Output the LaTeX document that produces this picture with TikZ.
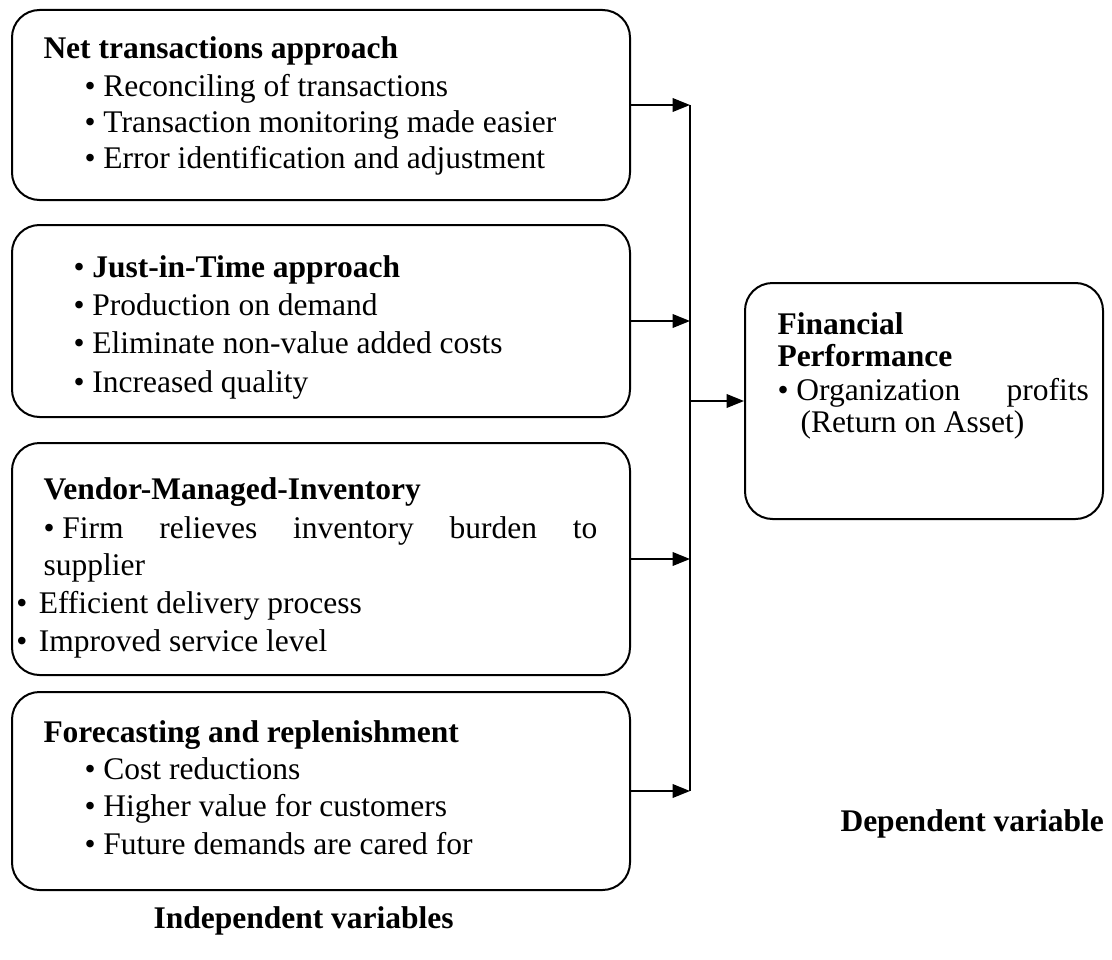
\documentclass[tikz,border=0pt]{standalone}
\usepackage{fontspec}
\setmainfont{Liberation Serif}
\usetikzlibrary{arrows.meta}

\newcommand{\bodyfont}{\fontsize{12.6}{15}\selectfont}

\tikzset{
  box/.style={draw, line width=0.8pt, rounded corners=11pt, inner sep=0pt},
  txt/.style={anchor=base west, inner sep=0pt, font=\bodyfont},
  hd/.style={txt, font=\bodyfont\bfseries},
  link/.style={line width=0.6pt, -{Triangle[length=7pt,width=5.5pt]}}
}

\begin{document}
\begin{tikzpicture}[x=0.4pt,y=-0.4pt]
  \useasboundingbox (0,0) rectangle (1112,959);

  \node[box, minimum width=618*0.4pt, minimum height=190*0.4pt] (nt) at (321,105) {};
  \node[box, minimum width=618*0.4pt, minimum height=192*0.4pt] (jit) at (321,321) {};
  \node[box, minimum width=618*0.4pt, minimum height=232*0.4pt] (vmi) at (321,559) {};
  \node[box, minimum width=618*0.4pt, minimum height=198*0.4pt] (fr) at (321,791) {};
  \node[box, minimum width=358*0.4pt, minimum height=236*0.4pt] (fp) at (924,401) {};

  \node[hd] (nt0) at (43,59) {Net transactions approach};
  \node[txt] (nt1) at (84,97) {\textbullet\ Reconciling of transactions};
  \node[txt] (nt2) at (84,133) {\textbullet\ Transaction monitoring made easier};
  \node[txt] (nt3) at (84,168) {\textbullet\ Error identification and adjustment};

  \node[txt] (jit0) at (73,277) {\textbullet\ \textbf{Just-in-Time approach}};
  \node[txt] (jit1) at (73,315) {\textbullet\ Production on demand};
  \node[txt] (jit2) at (73,353) {\textbullet\ Eliminate non-value added costs};
  \node[txt] (jit3) at (73,392) {\textbullet\ Increased quality};

  \node[hd] (vmi0) at (43,499) {Vendor-Managed-Inventory};
  \node[txt] (vmi1) at (43,538) {\textbullet\ \makebox[214pt][s]{Firm relieves inventory burden to}};
  \node[txt] (vmi2) at (43,575) {supplier};
  \node[txt] (vmi3) at (16,613) {\textbullet\hspace{4.5pt}Efficient delivery process};
  \node[txt] (vmi4) at (16,651) {\textbullet\hspace{4.5pt}Improved service level};

  \node[hd] (fr0) at (43,742) {Forecasting and replenishment};
  \node[txt] (fr1) at (84,779) {\textbullet\ Cost reductions};
  \node[txt] (fr2) at (84,816) {\textbullet\ Higher value for customers};
  \node[txt] (fr3) at (84,854) {\textbullet\ Future demands are cared for};

  \node[hd] (fp0) at (777,334) {Financial};
  \node[hd] (fp1) at (777,366) {Performance};
  \node[txt] (fp2) at (777,400) {\textbullet\ \makebox[117pt][s]{Organization profits}};
  \node[txt] (fp3) at (800,432) {(Return on Asset)};

  \node[hd] (dv) at (840,831) {Dependent variable};
  \node[hd] (iv) at (153,928) {Independent variables};

  \coordinate (j1) at (690,105);
  \coordinate (j2) at (690,321);
  \coordinate (j3) at (690,559);
  \coordinate (j4) at (690,791);
  \coordinate (jm) at (690,401);

  \draw[link] (nt.east) -- (j1);
  \draw[link] (jit.east) -- (j2);
  \draw[link] (vmi.east) -- (j3);
  \draw[link] (fr.east) -- (j4);
  \draw[line width=0.8pt] (j1) -- (j4);
  \draw[link] (jm) -- (fp.west);
\end{tikzpicture}
\end{document}
